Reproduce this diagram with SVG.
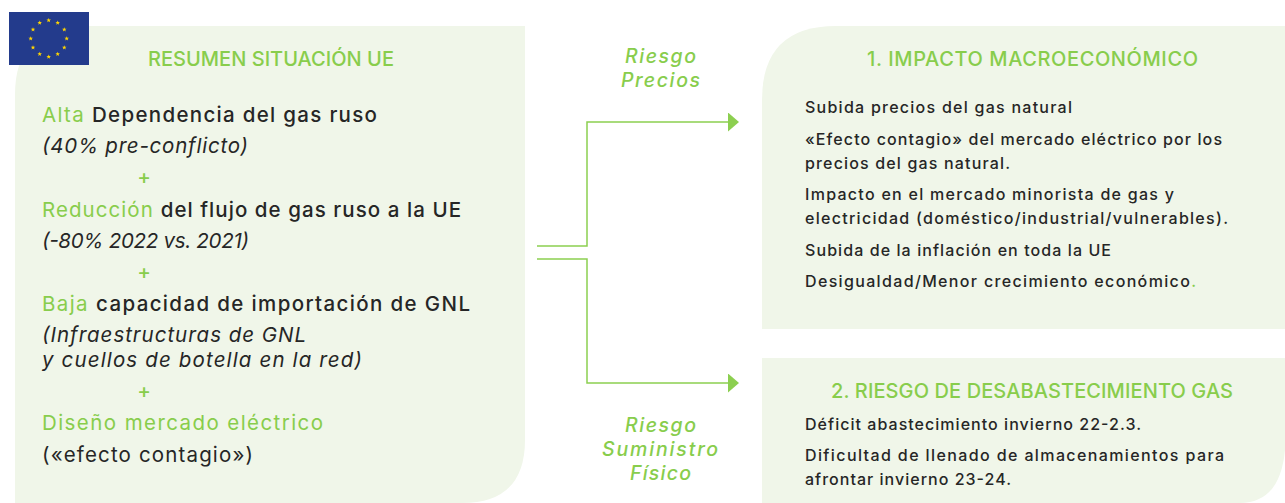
<svg xmlns="http://www.w3.org/2000/svg" width="1285" height="503" viewBox="0 0 1285 503">
<defs><marker id="ah" markerUnits="userSpaceOnUse" markerWidth="11" markerHeight="19" refX="0" refY="9.5" orient="auto"><path d="M0 0L11 9.5L0 19Z" fill="#8ccf50"/></marker>
<polygon id="st" points="0,-2.3 .6,-.7 2.3,-.7 1,.3 1.4,2 0,1 -1.4,2 -1,.3 -2.3,-.7 -.6,-.7" fill="#ffd500"/></defs>
<style>
text{font-family:Inter,"Open Sans","Liberation Sans",sans-serif}
.g{fill:#88cd4c}.d{fill:#262626}.panel{fill:#f0f6e9}
.h{font-size:20px;font-weight:500}
.m{font-size:20.5px}
.b{font-weight:500}.i{font-style:italic}
.s{font-size:16px;font-weight:500;fill:#262626}
.r{font-size:19.5px;font-style:italic;font-weight:500;fill:#88cd4c}
.c{fill:none;stroke:#8ccf50;stroke-width:1.5}
</style>
<rect width="1285" height="503" fill="#fff"/>
<g id="left-panel">
<path class="panel" d="M15 503V95Q15 26 84 26H525V440Q525 503 462 503Z"/>
<text class="h g" x="148" y="66" textLength="246">RESUMEN SITUACIÓN UE</text>
<text class="m" x="42" y="122" textLength="335"><tspan class="g">Alta </tspan><tspan class="d b">Dependencia del gas ruso</tspan></text>
<text class="m d i" x="42" y="153" textLength="206">(40% pre-conflicto)</text>
<text class="m g b" x="144" y="184" text-anchor="middle">+</text>
<text class="m" x="42" y="217" textLength="419"><tspan class="g">Reducción </tspan><tspan class="d b">del flujo de gas ruso a la UE</tspan></text>
<text class="m d i" x="42" y="248" textLength="207">(-80% 2022 vs. 2021)</text>
<text class="m g b" x="144" y="279" text-anchor="middle">+</text>
<text class="m" x="42" y="311" textLength="428"><tspan class="g">Baja </tspan><tspan class="d b">capacidad de importación de GNL</tspan></text>
<text class="m d i" x="42" y="342" textLength="264">(Infraestructuras de GNL</text>
<text class="m d i" x="42" y="367" textLength="320">y cuellos de botella en la red)</text>
<text class="m g b" x="144" y="398" text-anchor="middle">+</text>
<text class="m g" x="42" y="430" textLength="281">Diseño mercado eléctrico</text>
<text class="m d" x="42" y="462" textLength="211">(«efecto contagio»)</text>
</g>
<g id="eu-flag">
<rect x="9" y="12" width="80" height="53" fill="#233b8c"/>
<use href="#st" x="48.7" y="20.3"/><use href="#st" x="57.7" y="22.8"/><use href="#st" x="64.3" y="29.5"/><use href="#st" x="66.7" y="38.5"/><use href="#st" x="64.3" y="47.5"/><use href="#st" x="57.7" y="54"/><use href="#st" x="48.7" y="56.7"/><use href="#st" x="39.7" y="54"/><use href="#st" x="33" y="47.5"/><use href="#st" x="30.7" y="38.5"/><use href="#st" x="33" y="29.5"/><use href="#st" x="39.7" y="22.8"/>
</g>
<g id="connectors">
<path class="c" d="M537 246H587V122H728" marker-end="url(#ah)"/>
<path class="c" d="M537 259H587V383H728" marker-end="url(#ah)"/>
</g>
<g id="label-precios"><text class="r" x="625" y="63" textLength="71">Riesgo</text><text class="r" x="621" y="87" textLength="79">Precios</text></g>
<g id="label-suministro"><text class="r" x="625" y="432" textLength="71">Riesgo</text><text class="r" x="602" y="456" textLength="116">Suministro</text><text class="r" x="630" y="480" textLength="61">Físico</text></g>
<g id="impact-panel">
<path class="panel" d="M762 329V100Q762 26 836 26H1285V329Z"/>
<text class="h g" x="867" y="66" textLength="331">1. IMPACTO MACROECONÓMICO</text>
<text class="s" x="805" y="113" textLength="267">Subida precios del gas natural</text>
<text class="s" x="805" y="145" textLength="417">«Efecto contagio» del mercado eléctrico por los</text>
<text class="s" x="805" y="169" textLength="205">precios del gas natural.</text>
<text class="s" x="805" y="200" textLength="369">Impacto en el mercado minorista de gas y</text>
<text class="s" x="805" y="224" textLength="423">electricidad (doméstico/industrial/vulnerables).</text>
<text class="s" x="805" y="256" textLength="306">Subida de la inflación en toda la UE</text>
<text class="s" x="805" y="287" textLength="391">Desigualdad/Menor crecimiento económico<tspan class="g">.</tspan></text>
</g>
<g id="risk-panel">
<path class="panel" d="M762 503V358H1285V450Q1280 503 1240 503Z"/>
<text class="h g" x="831" y="398" textLength="402">2. RIESGO DE DESABASTECIMIENTO GAS</text>
<text class="s" x="805" y="430" textLength="336">Déficit abastecimiento invierno 22-2.3.</text>
<text class="s" x="805" y="461" textLength="419">Dificultad de llenado de almacenamientos para</text>
<text class="s" x="805" y="485" textLength="206">afrontar invierno 23-24.</text>
</g>
</svg>
